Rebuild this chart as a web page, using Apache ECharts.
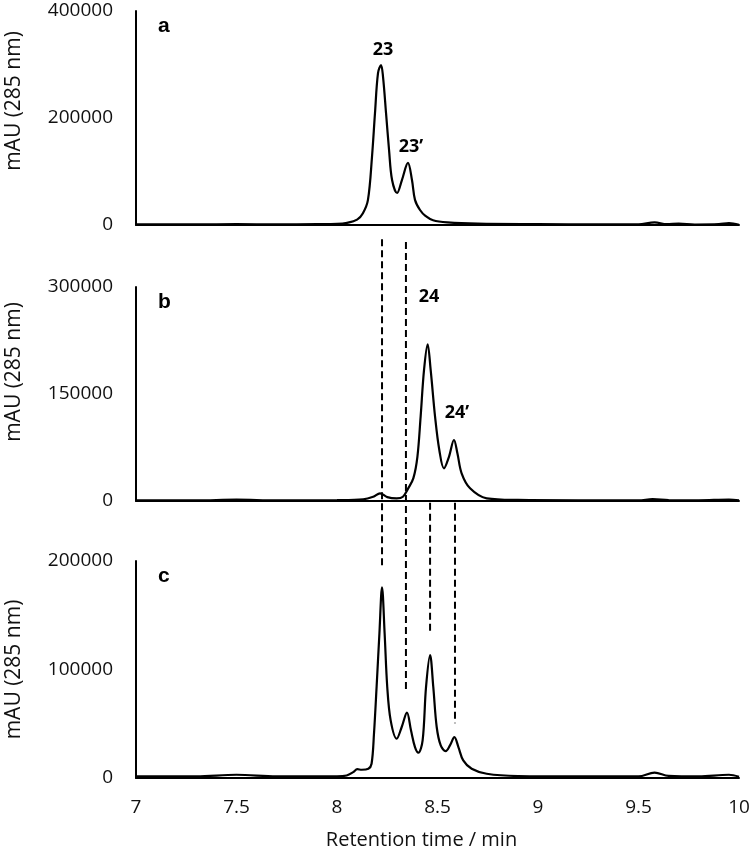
<!DOCTYPE html>
<html>
<head>
<meta charset="utf-8">
<script src="https://cdn.jsdelivr.net/npm/echarts@6/dist/echarts.min.js"></script>
<style>html,body{margin:0;padding:0;background:#fff}#main{width:755px;height:853px}</style>
</head>
<body>
<div id="main"></div>
<script>
// Panel a (compounds 23 / 23')
const timeA = [7.0, 7.3, 7.5, 7.7, 7.9, 8.0, 8.05, 8.1, 8.129, 8.154, 8.174, 8.189, 8.204, 8.219, 8.229, 8.244, 8.259, 8.274, 8.299, 8.323, 8.353, 8.373, 8.388, 8.413, 8.44, 8.478, 8.55, 8.7, 9.0, 9.3, 9.5, 9.58, 9.64, 9.7, 9.78, 9.9, 9.95, 10.0];
const valA  = [1000, 1200, 1500, 1000, 1500, 2000, 4000, 10000, 22000, 47000, 127000, 209000, 284000, 299000, 277000, 209000, 140000, 84000, 60000, 84000, 116000, 84000, 47000, 28000, 17000, 9000, 5000, 2500, 1500, 1000, 1200, 5000, 1500, 2500, 800, 1500, 3500, 500];

// Panel b (compounds 24 / 24')
const timeB = [7.0, 7.3, 7.5, 7.7, 8.0, 8.13, 8.18, 8.214, 8.25, 8.297, 8.328, 8.355, 8.38, 8.4, 8.416, 8.433, 8.451, 8.466, 8.488, 8.509, 8.532, 8.557, 8.582, 8.599, 8.62, 8.662, 8.745, 8.9, 9.2, 9.5, 9.57, 9.65, 9.8, 9.95, 10.0];
const valB  = [1000, 800, 2000, 800, 1200, 2400, 6000, 10800, 5500, 3800, 6000, 18000, 32000, 62000, 118000, 183700, 219700, 183700, 118000, 71500, 45800, 62000, 85500, 66900, 38800, 17800, 3800, 1500, 1000, 1000, 2500, 1200, 1000, 2000, 800];

// Panel c (mixture)
const timeC = [7.0, 7.3, 7.5, 7.7, 8.0, 8.048, 8.081, 8.101, 8.123, 8.156, 8.172, 8.184, 8.197, 8.211, 8.224, 8.237, 8.25, 8.267, 8.297, 8.322, 8.348, 8.368, 8.388, 8.405, 8.426, 8.443, 8.463, 8.479, 8.496, 8.516, 8.541, 8.562, 8.584, 8.604, 8.628, 8.67, 8.745, 8.9, 9.2, 9.5, 9.58, 9.65, 9.8, 9.95, 10.0];
const valC  = [1500, 1500, 3000, 1500, 1500, 2300, 5400, 8100, 7600, 8500, 13100, 40800, 83900, 133200, 175700, 133200, 83900, 53100, 36200, 47000, 60200, 43900, 28500, 23300, 34700, 83900, 113200, 83900, 47000, 30000, 24800, 30000, 37700, 28500, 16200, 8500, 3900, 1800, 1500, 1500, 5000, 2000, 1500, 3000, 1200];

// Axis ranges and ticks
const xMin = 7, xMax = 10, xStep = 0.5;
const yMax = [400000, 300000, 200000];
const yStep = [200000, 150000, 100000];
const panelLetters = ['a', 'b', 'c'];

// Peak labels [panel, time, value, text]
const peakLabels = [
  [0, 8.229, 328000, '23'],
  [0, 8.368, 146000, '23\u2019'],
  [1, 8.458, 286000, '24'],
  [1, 8.597, 123000, '24\u2019']
];

// Dashed guide lines (time, top & bottom in panel-c units)
const dashTime   = [8.224, 8.343, 8.463, 8.587];
const dashTop    = [496600, 494000, 253600, 253600];
const dashBottom = [193600, 79000, 134600, 50400];

const FONT = 'Open Sans';
const grids = [
  {left: 136, right: 16, top: 11, height: 214, outerBoundsMode: 'none', containLabel: false},
  {left: 136, right: 16, top: 287, height: 214, outerBoundsMode: 'none', containLabel: false},
  {left: 136, right: 16, top: 561, height: 217, outerBoundsMode: 'none', containLabel: false}
];
const namePads = [[0,0,0,34],[0,0,0,44],[0,0,0,0]];

const xAxes = grids.map((g, i) => ({
  type: 'value', gridIndex: i, min: xMin, max: xMax, interval: xStep,
  axisLine: {show: true, onZero: false, lineStyle: {color: '#000', width: 2}},
  axisTick: {show: false},
  splitLine: {show: false},
  axisLabel: {show: i === 2, color: '#111', fontFamily: FONT, fontSize: 19, margin: 20},
  name: i === 2 ? 'Retention time / min' : '',
  nameLocation: 'middle', nameGap: 52,
  nameTextStyle: {color: '#111', fontFamily: FONT, fontSize: 20, padding: [0, 32, 0, 0]}
}));

const yAxes = grids.map((g, i) => ({
  type: 'value', gridIndex: i, min: 0, max: yMax[i], interval: yStep[i],
  axisLine: {show: true, lineStyle: {color: '#000', width: 2}},
  axisTick: {show: false},
  splitLine: {show: false},
  axisLabel: {color: '#111', fontFamily: FONT, fontSize: 19, margin: 23, formatter: v => String(v)},
  name: 'mAU (285 nm)', nameLocation: 'middle', nameGap: 111, nameRotate: 90,
  nameTextStyle: {color: '#111', fontFamily: FONT, fontSize: 21, padding: namePads[i]}
}));

const sets = [[timeA, valA], [timeB, valB], [timeC, valC]];
const series = sets.map((s, i) => ({
  type: 'line', xAxisIndex: i, yAxisIndex: i,
  data: s[0].map((t, k) => [t, s[1][k]]),
  showSymbol: false, smooth: 0.35,
  lineStyle: {color: '#000', width: 2.2},
  z: 3,
  markPoint: {
    symbol: 'circle', symbolSize: 1,
    itemStyle: {color: 'rgba(0,0,0,0)'},
    label: {show: true, position: 'inside', color: '#000', fontFamily: FONT, fontWeight: 'bold', fontSize: 18},
    data: peakLabels.filter(p => p[0] === i).map(p => ({coord: [p[1], p[2]], label: {formatter: p[3]}}))
  }
}));

const titles = panelLetters.map((L, i) => ({
  text: L, left: 153, top: grids[i].top,
  textStyle: {fontFamily: 'Liberation Sans', fontWeight: 'bold', fontSize: 21, color: '#000'}
}));

const chart = echarts.init(document.getElementById('main'), null, {renderer: 'canvas'});
chart.setOption({
  animation: false,
  backgroundColor: '#fff',
  title: titles,
  grid: grids,
  xAxis: xAxes,
  yAxis: yAxes,
  series: series
});

const lines = dashTime.map((t, k) => {
  const p1 = chart.convertToPixel({xAxisIndex: 2, yAxisIndex: 2}, [t, dashTop[k]]);
  const p2 = chart.convertToPixel({xAxisIndex: 2, yAxisIndex: 2}, [t, dashBottom[k]]);
  return {
    type: 'line', z: 10,
    shape: {x1: p1[0], y1: p1[1], x2: p2[0], y2: p2[1]},
    style: {stroke: '#000', lineWidth: 2, lineDash: [7, 4]}
  };
});
chart.setOption({graphic: lines});
</script>
</body>
</html>
